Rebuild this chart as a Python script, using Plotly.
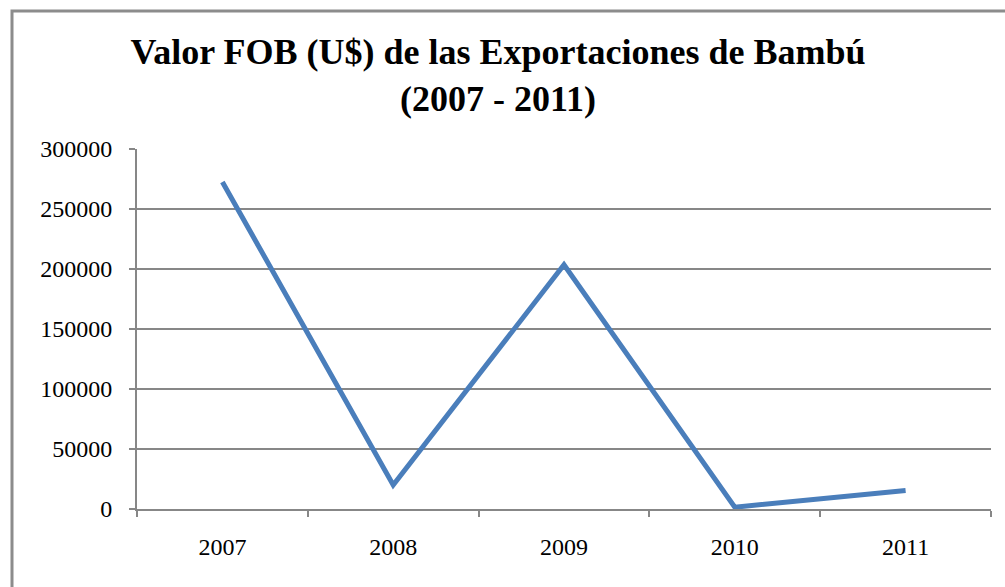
import plotly.graph_objects as go

years = ["2007", "2008", "2009", "2010", "2011"]
fob_values = [272500, 20000, 203500, 1500, 15500]
y_ticks = [0, 50000, 100000, 150000, 200000, 250000, 300000]

title_text = "Valor FOB (U$) de las Exportaciones de Bambú<br>(2007 - 2011)"

grid_col = "#878787"
line_col = "#4A7EBB"

fig = go.Figure()
fig.add_trace(go.Scatter(
    x=years, y=fob_values, mode="lines",
    line=dict(color=line_col, width=5),
    showlegend=False,
))

fig.update_layout(
    width=1005, height=587,
    margin=dict(l=137, r=14, t=149, b=78),
    paper_bgcolor="white", plot_bgcolor="white",
    title=dict(
        text=title_text,
        font=dict(family="Liberation Serif", size=36, color="black", weight="bold"),
        x=498 / 1005, xanchor="center", xref="container",
        y=1 - 64 / 587, yanchor="top", yref="container",
    ),
    font=dict(family="Liberation Serif", size=24, color="black"),
)

fig.update_xaxes(
    type="category", range=[-0.5, 4.5],
    showline=True, linecolor=grid_col, linewidth=2,
    ticks="outside", tickson="boundaries", ticklen=6, tickcolor=grid_col, tickwidth=2,
    showgrid=False, ticklabelstandoff=15,
)
fig.update_yaxes(
    range=[0, 300000], tickvals=y_ticks, ticktext=[str(v) for v in y_ticks],
    showline=True, linecolor=grid_col, linewidth=2,
    ticks="outside", ticklen=6, tickcolor=grid_col, tickwidth=2,
    showgrid=True, gridcolor=grid_col, gridwidth=2,
    zeroline=False, ticklabelstandoff=12,
)

# chart frame (extends beyond the right/bottom edges as in the reference)
fig.add_shape(
    type="rect", xref="paper", yref="paper",
    x0=(12 - 137) / 854, x1=(1010 - 137) / 854,
    y0=-(600 - 509) / 360, y1=(509 - 11) / 360,
    line=dict(color="#8C8C8C", width=3), fillcolor="rgba(0,0,0,0)",
    layer="below",
)

fig.write_html(
    "out.html",
    config={"displayModeBar": False},
    post_script="document.body.style.margin='0';",
)
